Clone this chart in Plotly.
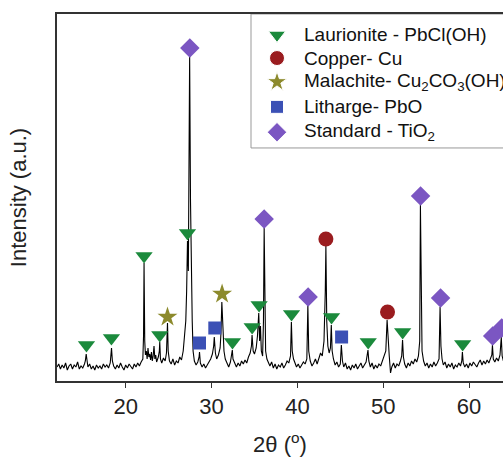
import plotly.graph_objects as go

# XRD scan (2theta in degrees, intensity in a.u.)
two_theta = [
    12.0, 12.2, 12.4, 12.6, 12.8, 13.0, 13.2, 13.4, 13.6, 13.8, 14.0, 14.2, 14.4, 14.6, 14.8, 15.0, 15.2,
    15.3, 15.4, 15.5, 15.6, 15.8, 16.0, 16.2, 16.4, 16.6, 16.8, 17.0, 17.2, 17.4, 17.6, 17.8, 18.0, 18.2,
    18.3, 18.35, 18.45, 18.6, 18.8, 19.0, 19.2, 19.4, 19.6, 19.8, 20.0, 20.2, 20.4, 20.6, 20.8, 21.0,
    21.2, 21.4, 21.6, 21.8, 22.0, 22.08, 22.14, 22.22, 22.3, 22.4, 22.5, 22.6, 22.7, 22.8, 22.9, 23.0,
    23.1, 23.2, 23.3, 23.4, 23.5, 23.6, 23.8, 23.92, 23.97, 24.05, 24.2, 24.4, 24.6, 24.75, 24.82, 24.87,
    24.95, 25.1, 25.3, 25.5, 25.7, 25.9, 26.1, 26.3, 26.5, 26.7, 26.85, 27.0, 27.1, 27.2, 27.3, 27.45,
    27.55, 27.65, 27.75, 27.85, 28.0, 28.2, 28.4, 28.55, 28.6, 28.7, 28.9, 29.1, 29.3, 29.5, 29.7, 29.9,
    30.1, 30.25, 30.32, 30.45, 30.6, 30.8, 31.0, 31.1, 31.2, 31.3, 31.45, 31.6, 31.8, 32.0, 32.2, 32.3,
    32.42, 32.5, 32.7, 32.9, 33.1, 33.3, 33.5, 33.7, 33.9, 34.1, 34.3, 34.5, 34.65, 34.72, 34.85, 35.0,
    35.2, 35.35, 35.5, 35.6, 35.7, 35.8, 35.95, 36.05, 36.13, 36.22, 36.3, 36.45, 36.6, 36.8, 37.0, 37.2,
    37.4, 37.6, 37.8, 38.0, 38.2, 38.4, 38.6, 38.8, 39.0, 39.2, 39.3, 39.4, 39.55, 39.7, 39.9, 40.1,
    40.3, 40.5, 40.7, 40.9, 41.1, 41.22, 41.32, 41.5, 41.7, 41.9, 42.1, 42.3, 42.5, 42.7, 42.9, 43.1,
    43.25, 43.32, 43.42, 43.55, 43.7, 43.85, 43.95, 44.05, 44.2, 44.4, 44.6, 44.8, 45.0, 45.12, 45.25,
    45.4, 45.6, 45.8, 46.0, 46.2, 46.4, 46.6, 46.8, 47.0, 47.2, 47.4, 47.6, 47.8, 48.0, 48.22, 48.32,
    48.5, 48.7, 48.9, 49.1, 49.3, 49.5, 49.7, 49.9, 50.1, 50.3, 50.45, 50.55, 50.7, 50.85, 51.0, 51.2,
    51.4, 51.6, 51.8, 52.0, 52.15, 52.25, 52.35, 52.5, 52.7, 52.9, 53.1, 53.3, 53.5, 53.7, 53.9, 54.1,
    54.25, 54.33, 54.42, 54.52, 54.7, 54.9, 55.1, 55.3, 55.5, 55.7, 55.9, 56.1, 56.3, 56.5, 56.62, 56.72,
    56.85, 57.0, 57.2, 57.4, 57.6, 57.8, 58.0, 58.2, 58.4, 58.6, 58.8, 59.0, 59.15, 59.22, 59.32, 59.5,
    59.7, 59.9, 60.1, 60.3, 60.5, 60.7, 60.9, 61.1, 61.3, 61.5, 61.7, 61.9, 62.1, 62.3, 62.5, 62.65,
    62.72, 62.82, 63.0, 63.2, 63.4, 63.6, 63.75, 63.85, 64.0,
]
intensity = [
    14, 17, 12, 16, 13, 18, 11, 15, 17, 12, 16, 14, 19, 12, 15, 13, 17,
    20, 27, 19, 14, 17, 12, 15, 11, 16, 13, 15, 12, 17, 14, 16, 13, 18,
    26, 33, 20, 15, 12, 16, 13, 18, 14, 11, 16, 13, 17, 15, 12, 17,
    14, 18, 15, 19, 22, 45, 118, 40, 26, 30, 22, 33, 24, 27, 21, 29,
    20, 25, 35, 22, 26, 19, 24, 30, 39, 22, 18, 23, 20, 28, 40, 58,
    30, 20, 17, 22, 16, 20, 18, 24, 21, 30, 45, 60, 90, 140, 110, 325,
    180, 100, 60, 30, 20, 16, 19, 24, 29, 18, 14, 17, 13, 16, 19, 22,
    27, 35, 44, 28, 22, 26, 33, 48, 79, 50, 30, 22, 17, 14, 19, 24,
    31, 22, 17, 14, 18, 15, 20, 17, 21, 18, 24, 28, 35, 46, 30, 27,
    33, 45, 68, 40, 55, 30, 25, 60, 153, 70, 30, 22, 18, 15, 19, 13,
    17, 12, 16, 14, 18, 13, 16, 20, 18, 25, 59, 30, 22, 18, 14, 17,
    13, 16, 19, 17, 22, 76, 30, 20, 15, 18, 22, 17, 24, 28, 25, 40,
    90, 135, 60, 35, 28, 33, 56, 30, 22, 16, 19, 14, 17, 36, 20,
    14, 18, 12, 15, 11, 16, 13, 17, 12, 15, 18, 13, 16, 19, 31, 20,
    14, 18, 12, 16, 13, 17, 15, 20, 23, 30, 61, 40, 25, 8, 14, 18,
    13, 17, 15, 20, 25, 41, 24, 17, 13, 18, 15, 20, 17, 22, 19, 25,
    40, 176, 60, 30, 20, 15, 18, 13, 17, 14, 19, 15, 18, 22, 74, 35,
    22, 16, 19, 13, 17, 14, 18, 12, 16, 14, 18, 15, 20, 29, 18, 14,
    17, 13, 18, 15, 19, 16, 14, 18, 21, 16, 20, 17, 21, 18, 22, 26,
    36, 22, 19, 23, 20, 26, 44, 25, 20,
]

# phase markers (peak position, marker height)
laurionite_x = [15.43, 18.34, 22.14, 23.97, 27.2, 32.44, 34.73, 35.54, 39.32, 43.98, 48.25, 52.26, 59.25]
laurionite_y = [36, 43, 125, 46, 148, 39, 54, 76, 67, 64, 39, 49, 37]
copper_x = [43.32, 50.5]
copper_y = [142, 69]
malachite_x = [24.87, 31.23]
malachite_y = [64, 87]
litharge_x = [28.6, 30.38, 45.15]
litharge_y = [38, 53, 44]
tio2_x = [27.47, 36.13, 41.25, 54.35, 56.68, 62.75, 63.8]
tio2_y = [333, 162, 84, 185, 83, 45, 53]

phase_names = ['Laurionite - PbCl(OH)', 'Copper- Cu',
               'Malachite- Cu<sub>2</sub>CO<sub>3</sub>(OH)<sub>2</sub>',
               'Litharge- PbO', 'Standard - TiO<sub>2</sub>']

fig = go.Figure()

fig.add_trace(go.Scatter(x=two_theta, y=intensity, mode='lines',
                         line=dict(color='black', width=1.1), showlegend=False))

styles = [('triangle-down', '#1b8a3c', 15), ('circle', '#9a1c1f', 15),
          ('star', '#8c8a2c', 15), ('square', '#3b50b5', 13), ('diamond', '#7b56c2', 15)]
points = [(laurionite_x, laurionite_y), (copper_x, copper_y), (malachite_x, malachite_y),
          (litharge_x, litharge_y), (tio2_x, tio2_y)]
for (xs, ys), (sym, col, size), name in zip(points, styles, phase_names):
    fig.add_trace(go.Scatter(x=xs, y=ys, mode='markers', name=name, showlegend=False,
                             cliponaxis=False,
                             marker=dict(symbol=sym, color=col, size=size, opacity=1)))

# hand-made legend box (runs off the right edge like the original)
leg_rows = [0.943, 0.880, 0.815, 0.747, 0.678]
fig.add_shape(type='rect', xref='paper', yref='paper', x0=0.435, x1=1.2, y0=0.635, y1=1,
              line=dict(color='#999', width=1), fillcolor='white', layer='below')
fig.add_trace(go.Scatter(x=[0.4933] * 5, y=leg_rows, mode='markers', xaxis='x2', yaxis='y2',
                         showlegend=False, hoverinfo='skip', cliponaxis=False,
                         marker=dict(symbol=[s[0] for s in styles], color=[s[1] for s in styles],
                                     size=[s[2] for s in styles], opacity=1)))
for name, yy in zip(phase_names, leg_rows):
    fig.add_annotation(text=name, xref='paper', yref='paper', x=0.549, y=yy,
                       xanchor='left', yanchor='middle', showarrow=False,
                       font=dict(size=19, color='#111'))

fig.update_layout(
    width=503, height=457,
    margin=dict(l=57, r=0, t=14, b=76, autoexpand=False),
    plot_bgcolor='white', paper_bgcolor='white',
    font=dict(family='Liberation Sans, Arial', color='#222'),
    showlegend=False,
    xaxis=dict(range=[12, 63.95], tickvals=[20, 30, 40, 50, 60],
               ticks='outside', ticklen=5, tickcolor='#333', tickfont=dict(size=22),
               showline=True, linecolor='#333', linewidth=1.5, mirror=True,
               showgrid=False, zeroline=False,
               title=dict(text='2θ (<sup>o</sup>)', font=dict(size=22), standoff=19)),
    yaxis=dict(range=[0, 367], showticklabels=False, ticks='',
               showline=True, linecolor='#333', linewidth=1.5,
               showgrid=False, zeroline=False,
               title=dict(text='Intensity (a.u.)', font=dict(size=22), standoff=23)),
    xaxis2=dict(overlaying='x', range=[0, 1], visible=False),
    yaxis2=dict(overlaying='y', range=[0, 1], visible=False),
)

# drop the default page margin so the 503x457 figure fills the window
fig.write_html("out.html", config={'displayModeBar': False},
               post_script="document.body.style.margin='0';document.body.style.overflow='hidden';")
